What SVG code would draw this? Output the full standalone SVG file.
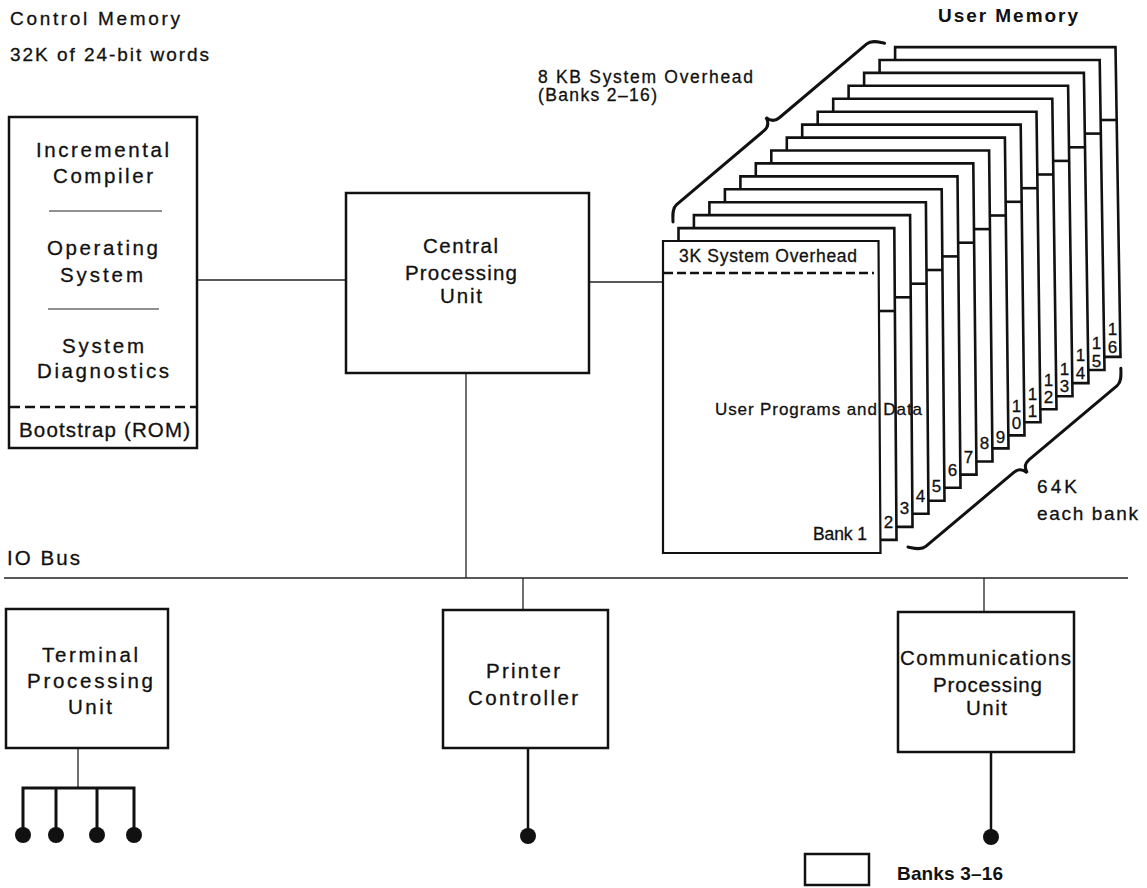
<svg xmlns="http://www.w3.org/2000/svg" width="1147" height="888" viewBox="0 0 1147 888">
<style>
text{font-family:"Liberation Sans",Arial,sans-serif;fill:#111;stroke:#111;stroke-width:0.3;}
.t20{font-size:20.5px;}
.t19{font-size:19px;}
.t17{font-size:17.5px;}
.t16{font-size:17px;}
.b{font-weight:bold;stroke-width:0;}
.box{fill:#fff;stroke:#111;stroke-width:2.5;}
.bank{fill:#fff;stroke:#111;stroke-width:2.6;stroke-linejoin:miter;}
.thin{stroke:#222;stroke-width:1.3;fill:none;}
.thick{stroke:#111;stroke-width:3;fill:none;}
.dash{stroke:#111;stroke-width:2.6;fill:none;}
.brace{stroke:#111;stroke-width:3;fill:none;stroke-linecap:round;}
.dot{fill:#111;}
.num{font-size:17px;text-anchor:middle;}
</style>

<g id="labels-top">
<text class="t19" x="10" y="25" textLength="170" lengthAdjust="spacing">Control Memory</text>
<text class="t19" x="10" y="61" textLength="199" lengthAdjust="spacing">32K of 24-bit words</text>
<text class="t17" x="538" y="83" textLength="215" lengthAdjust="spacing">8 KB System Overhead</text>
<text class="t17" x="538" y="101" textLength="119" lengthAdjust="spacing">(Banks 2–16)</text>
<text class="t19 b" x="938" y="22" textLength="140" lengthAdjust="spacing">User Memory</text>
<text class="t20" x="7" y="565" textLength="73" lengthAdjust="spacing">IO Bus</text>
<text class="t19" x="1037" y="493" textLength="40" lengthAdjust="spacing">64K</text>
<text class="t19" x="1037" y="520" textLength="101" lengthAdjust="spacing">each bank</text>
</g>

<g id="connectors">
<line class="thin" x1="197" y1="280" x2="346" y2="280"/>
<line class="thin" x1="589" y1="282" x2="663" y2="282"/>
<line class="thin" x1="466" y1="373" x2="466" y2="578"/>
<line class="thin" x1="4" y1="578" x2="1128" y2="578" style="stroke-width:1.6"/>
<line class="thin" x1="523" y1="578" x2="523" y2="610"/>
<line class="thin" x1="984" y1="578" x2="984" y2="612"/>
<line class="thin" x1="78" y1="748" x2="78" y2="788"/>
<path class="thick" d="M23,835 V788 H134 V835 M56,788 V835 M97,788 V835"/>
<circle class="dot" cx="23" cy="835" r="8"/>
<circle class="dot" cx="56" cy="835" r="8"/>
<circle class="dot" cx="97" cy="835" r="8"/>
<circle class="dot" cx="134" cy="835" r="8"/>
<line class="thick" x1="528" y1="748" x2="528" y2="836" style="stroke-width:2.5"/>
<circle class="dot" cx="528" cy="836" r="8"/>
<line class="thick" x1="991" y1="752" x2="991" y2="837" style="stroke-width:2.5"/>
<circle class="dot" cx="991" cy="837" r="8"/>
</g>

<g id="control-memory">
<rect class="box" x="9" y="117" width="188" height="331"/>
<line class="thin" x1="49" y1="211" x2="162" y2="211" style="stroke-width:1"/>
<line class="thin" x1="48" y1="309" x2="159" y2="309" style="stroke-width:1"/>
<line class="dash" x1="10" y1="407" x2="196" y2="407" stroke-dasharray="10 5"/>
<text class="t20" x="36" y="157" textLength="133" lengthAdjust="spacing">Incremental</text>
<text class="t20" x="53" y="183" textLength="100" lengthAdjust="spacing">Compiler</text>
<text class="t20" x="47" y="255" textLength="111" lengthAdjust="spacing">Operating</text>
<text class="t20" x="60" y="282" textLength="83" lengthAdjust="spacing">System</text>
<text class="t20" x="62" y="353" textLength="82" lengthAdjust="spacing">System</text>
<text class="t20" x="37" y="378" textLength="132" lengthAdjust="spacing">Diagnostics</text>
<text class="t20" x="19" y="437" textLength="171" lengthAdjust="spacing">Bootstrap (ROM)</text>
</g>

<g id="cpu">
<rect class="box" x="346" y="193" width="243" height="180"/>
<text class="t20" x="423" y="253" textLength="75" lengthAdjust="spacing">Central</text>
<text class="t20" x="405" y="280" textLength="112" lengthAdjust="spacing">Processing</text>
<text class="t20" x="440" y="303" textLength="42" lengthAdjust="spacing">Unit</text>
</g>

<g id="user-memory">
<g id="bank16"><path class="bank" d="M895.1,47.1 H1115.5 L1120.5,356.9 H895.1 Z"/><line class="dash" x1="1100.7" y1="120" x2="1116.5" y2="120"/><text class="num" x="1112.5" y="335">1</text><text class="num" x="1112.5" y="352.5">6</text></g>
<g id="bank15"><path class="bank" d="M879.6,60 H1099.7 L1104.5,370 H879.6 Z"/><line class="dash" x1="1084.9" y1="133.6" x2="1100.7" y2="133.6"/><text class="num" x="1096.5" y="349">1</text><text class="num" x="1096.5" y="366.5">5</text></g>
<g id="bank14"><path class="bank" d="M864.1,72.9 H1083.9 L1088.5,383.1 H864.1 Z"/><line class="dash" x1="1069.1" y1="147.3" x2="1084.9" y2="147.3"/><text class="num" x="1080.5" y="361">1</text><text class="num" x="1080.5" y="378.5">4</text></g>
<g id="bank13"><path class="bank" d="M848.6,85.8 H1068.1 L1072.5,396.2 H848.6 Z"/><line class="dash" x1="1053.3" y1="160.9" x2="1069.1" y2="160.9"/><text class="num" x="1064.5" y="374.5">1</text><text class="num" x="1064.5" y="392">3</text></g>
<g id="bank12"><path class="bank" d="M833.2,98.8 H1052.3 L1056.5,409.2 H833.2 Z"/><line class="dash" x1="1037.5" y1="174.5" x2="1053.3" y2="174.5"/><text class="num" x="1048.5" y="385.5">1</text><text class="num" x="1048.5" y="403">2</text></g>
<g id="bank11"><path class="bank" d="M817.7,111.7 H1036.5 L1040.5,422.2 H817.7 Z"/><line class="dash" x1="1021.7" y1="188.2" x2="1037.5" y2="188.2"/><text class="num" x="1032.5" y="399.5">1</text><text class="num" x="1032.5" y="417">1</text></g>
<g id="bank10"><path class="bank" d="M802.2,124.6 H1020.7 L1024.5,435.4 H802.2 Z"/><line class="dash" x1="1005.9" y1="201.8" x2="1021.7" y2="201.8"/><text class="num" x="1016.5" y="411.5">1</text><text class="num" x="1016.5" y="429">0</text></g>
<g id="bank9"><path class="bank" d="M786.8,137.6 H1004.9 L1008.5,448.4 H786.8 Z"/><line class="dash" x1="990.1" y1="215.5" x2="1005.9" y2="215.5"/><text class="num" x="1000.5" y="443">9</text></g>
<g id="bank8"><path class="bank" d="M771.3,150.5 H989.1 L992.5,461.5 H771.3 Z"/><line class="dash" x1="974.3" y1="229.1" x2="990.1" y2="229.1"/><text class="num" x="984.5" y="449">8</text></g>
<g id="bank7"><path class="bank" d="M755.8,163.4 H973.3 L976.5,474.6 H755.8 Z"/><line class="dash" x1="958.5" y1="242.7" x2="974.3" y2="242.7"/><text class="num" x="968.5" y="463">7</text></g>
<g id="bank6"><path class="bank" d="M740.4,176.4 H957.5 L960.5,487.7 H740.4 Z"/><line class="dash" x1="942.7" y1="256.4" x2="958.5" y2="256.4"/><text class="num" x="952.5" y="476">6</text></g>
<g id="bank5"><path class="bank" d="M724.9,189.3 H941.7 L944.5,500.7 H724.9 Z"/><line class="dash" x1="926.9" y1="270" x2="942.7" y2="270"/><text class="num" x="936.5" y="492">5</text></g>
<g id="bank4"><path class="bank" d="M709.4,202.2 H925.9 L928.5,513.8 H709.4 Z"/><line class="dash" x1="911.1" y1="283.7" x2="926.9" y2="283.7"/><text class="num" x="920.5" y="502">4</text></g>
<g id="bank3"><path class="bank" d="M693.9,215.1 H910.1 L912.5,526.9 H693.9 Z"/><line class="dash" x1="895.3" y1="297.3" x2="911.1" y2="297.3"/><text class="num" x="904.5" y="514">3</text></g>
<g id="bank2"><path class="bank" d="M678.5,228.1 H894.3 L896.5,539.9 H678.5 Z"/><line class="dash" x1="879.5" y1="311" x2="895.3" y2="311"/><text class="num" x="888.5" y="528">2</text></g>
<g id="bank1"><path class="bank" d="M663,241 H878.5 L880.5,553 H663 Z" style="stroke-width:2.2"/>
<line class="dash" x1="664" y1="273" x2="874" y2="273" stroke-dasharray="9 4"/>
<text class="t17" x="679" y="262" textLength="178" lengthAdjust="spacing">3K System Overhead</text>
<text class="t17" x="813" y="540" textLength="54" lengthAdjust="spacing">Bank 1</text>
</g>
<text class="t16" x="715" y="415" textLength="207" lengthAdjust="spacing">User Programs and Data</text>
<path class="brace" transform="translate(673,222) rotate(-40.2)" d="M0,0 C4,-5 8,-11 14,-11 L128.5,-11 C134.5,-11 137.5,-14 138.5,-20 C139.5,-14 142.5,-11 148.5,-11 L263,-11 C269,-11 273,-5 277,0"/>
<path class="brace" transform="translate(908,547) rotate(-40.04) scale(1,-1)" d="M0,0 C4,-5 8,-11 14,-11 L129,-11 C135,-11 138,-14 139,-20 C140,-14 143,-11 149,-11 L264,-11 C270,-11 274,-5 278,0"/>
</g>

<g id="terminal-processing-unit">
<rect class="box" x="6" y="609" width="162" height="139"/>
<text class="t20" x="42" y="662" textLength="96" lengthAdjust="spacing">Terminal</text>
<text class="t20" x="27" y="688" textLength="126" lengthAdjust="spacing">Processing</text>
<text class="t20" x="68" y="714" textLength="44" lengthAdjust="spacing">Unit</text>
</g>

<g id="printer-controller">
<rect class="box" x="443" y="610" width="165" height="138"/>
<text class="t20" x="486" y="678" textLength="74" lengthAdjust="spacing">Printer</text>
<text class="t20" x="468" y="705" textLength="110" lengthAdjust="spacing">Controller</text>
</g>

<g id="communications-processing-unit">
<rect class="box" x="898" y="612" width="176" height="140"/>
<text class="t20" x="900" y="665" textLength="171" lengthAdjust="spacing">Communications</text>
<text class="t20" x="933" y="692" textLength="109" lengthAdjust="spacing">Processing</text>
<text class="t20" x="966" y="715" textLength="41" lengthAdjust="spacing">Unit</text>
</g>

<g id="legend">
<rect class="box" x="805" y="854" width="64" height="31"/>
<text class="t19 b" x="897" y="880" textLength="106" lengthAdjust="spacing">Banks 3–16</text>
</g>
</svg>
